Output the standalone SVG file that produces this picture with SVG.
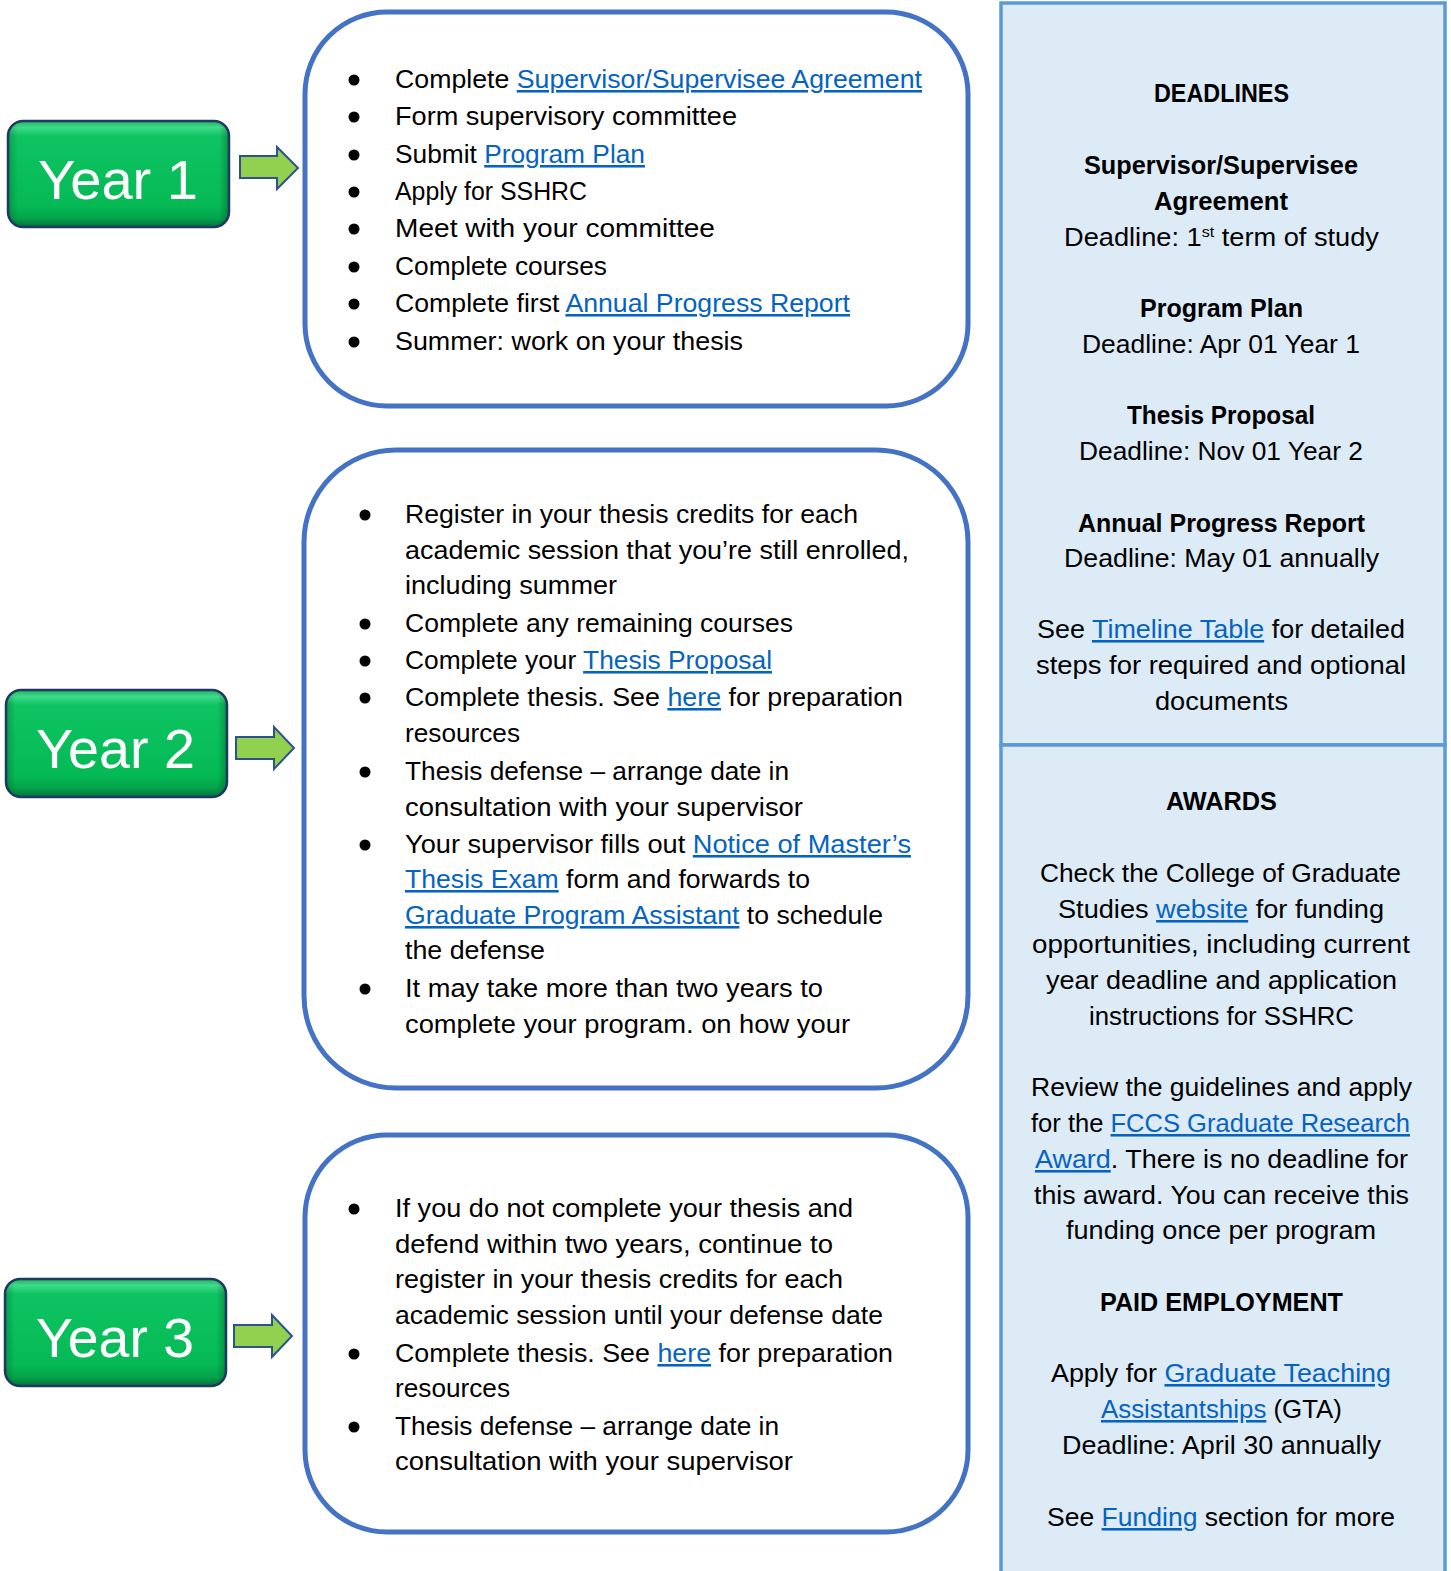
<svg xmlns="http://www.w3.org/2000/svg" width="1451" height="1571" viewBox="0 0 1451 1571">
<defs>
<linearGradient id="gbtn" x1="0" y1="0" x2="0" y2="1">
<stop offset="0" stop-color="#1FAE5C"/>
<stop offset="0.06" stop-color="#3EDB8A"/>
<stop offset="0.14" stop-color="#0EC462"/>
<stop offset="0.8" stop-color="#05BA55"/>
<stop offset="0.92" stop-color="#04A24A"/>
<stop offset="1" stop-color="#03703A"/>
</linearGradient>
<linearGradient id="gside" x1="0" y1="0" x2="1" y2="0">
<stop offset="0" stop-color="#000" stop-opacity="0.18"/>
<stop offset="0.04" stop-color="#000" stop-opacity="0"/>
<stop offset="0.96" stop-color="#000" stop-opacity="0"/>
<stop offset="1" stop-color="#000" stop-opacity="0.22"/>
</linearGradient>
</defs>
<style>
.t{font-family:"Liberation Sans",Arial,sans-serif;font-size:25.5px;fill:#000}
.b{font-weight:bold}
.l{fill:#0563C1;text-decoration:underline}
.box{fill:#fff;stroke:#4472C4;stroke-width:5}
.btn{stroke:#1F3864;stroke-width:2.5}
.yt{font-family:"Liberation Sans",Arial,sans-serif;font-size:55px;fill:#fff}
.arr{fill:#92D050;stroke:#2F528F;stroke-width:2;stroke-linejoin:miter}
.bul{fill:#000}
.panel{fill:#DDEBF7;stroke:#5B9BD5;stroke-width:3.5}
</style>

<g id="connectors">
<path class="arr" d="M240,156 H277 V147 L298,168 L277,189 V178 H240 Z"/>
<path class="arr" d="M236,737 H274 V727 L294,748 L274,769 V759 H236 Z"/>
<path class="arr" d="M234,1325 H272 V1315 L292,1336 L272,1357 V1347 H234 Z"/>
</g>

<g id="year1">
<rect class="btn" x="8" y="121" width="221" height="106" rx="15" fill="url(#gbtn)"/>
<rect x="9" y="122" width="219" height="104" rx="14" fill="url(#gside)"/>
<text class="yt" x="38" y="199" textLength="160" lengthAdjust="spacingAndGlyphs">Year 1</text>
</g>
<g id="year2">
<rect class="btn" x="6" y="690" width="221" height="107" rx="15" fill="url(#gbtn)"/>
<rect x="7" y="691" width="219" height="105" rx="14" fill="url(#gside)"/>
<text class="yt" x="36" y="768" textLength="159" lengthAdjust="spacingAndGlyphs">Year 2</text>
</g>
<g id="year3">
<rect class="btn" x="5" y="1279" width="221" height="107" rx="15" fill="url(#gbtn)"/>
<rect x="6" y="1280" width="219" height="105" rx="14" fill="url(#gside)"/>
<text class="yt" x="36" y="1357" textLength="158" lengthAdjust="spacingAndGlyphs">Year 3</text>
</g>

<g id="box1">
<rect class="box" x="305" y="12" width="663" height="394" rx="82"/>
<g class="bul">
<circle cx="354" cy="80" r="5.5"/><circle cx="354" cy="117" r="5.5"/><circle cx="354" cy="155" r="5.5"/><circle cx="354" cy="192" r="5.5"/>
<circle cx="354" cy="229" r="5.5"/><circle cx="354" cy="267" r="5.5"/><circle cx="354" cy="304" r="5.5"/><circle cx="354" cy="342" r="5.5"/>
</g>
<text class="t" x="395" y="88" textLength="527" lengthAdjust="spacingAndGlyphs">Complete <tspan class="l">Supervisor/Supervisee Agreement</tspan></text>
<text class="t" x="395" y="125" textLength="342" lengthAdjust="spacingAndGlyphs">Form supervisory committee</text>
<text class="t" x="395" y="163" textLength="250" lengthAdjust="spacingAndGlyphs">Submit <tspan class="l">Program Plan</tspan></text>
<text class="t" x="395" y="200" textLength="192" lengthAdjust="spacingAndGlyphs">Apply for SSHRC</text>
<text class="t" x="395" y="237" textLength="320" lengthAdjust="spacingAndGlyphs">Meet with your committee</text>
<text class="t" x="395" y="275" textLength="212" lengthAdjust="spacingAndGlyphs">Complete courses</text>
<text class="t" x="395" y="312" textLength="455" lengthAdjust="spacingAndGlyphs">Complete first <tspan class="l">Annual Progress Report</tspan></text>
<text class="t" x="395" y="350" textLength="348" lengthAdjust="spacingAndGlyphs">Summer: work on your thesis</text>
</g>

<g id="box2">
<rect class="box" x="304" y="450" width="664" height="638" rx="92"/>
<g class="bul">
<circle cx="365" cy="515" r="5.5"/><circle cx="365" cy="624" r="5.5"/><circle cx="365" cy="661" r="5.5"/><circle cx="365" cy="698" r="5.5"/>
<circle cx="365" cy="772" r="5.5"/><circle cx="365" cy="845" r="5.5"/><circle cx="365" cy="989" r="5.5"/>
</g>
<text class="t" x="405" y="523" textLength="453" lengthAdjust="spacingAndGlyphs">Register in your thesis credits for each</text>
<text class="t" x="405" y="559" textLength="504" lengthAdjust="spacingAndGlyphs">academic session that you’re still enrolled,</text>
<text class="t" x="405" y="594" textLength="212" lengthAdjust="spacingAndGlyphs">including summer</text>
<text class="t" x="405" y="632" textLength="388" lengthAdjust="spacingAndGlyphs">Complete any remaining courses</text>
<text class="t" x="405" y="669" textLength="367" lengthAdjust="spacingAndGlyphs">Complete your <tspan class="l">Thesis Proposal</tspan></text>
<text class="t" x="405" y="706" textLength="498" lengthAdjust="spacingAndGlyphs">Complete thesis. See <tspan class="l">here</tspan> for preparation</text>
<text class="t" x="405" y="742" textLength="115" lengthAdjust="spacingAndGlyphs">resources</text>
<text class="t" x="405" y="780" textLength="384" lengthAdjust="spacingAndGlyphs">Thesis defense – arrange date in</text>
<text class="t" x="405" y="816" textLength="398" lengthAdjust="spacingAndGlyphs">consultation with your supervisor</text>
<text class="t" x="405" y="853" textLength="506" lengthAdjust="spacingAndGlyphs">Your supervisor fills out <tspan class="l">Notice of Master’s</tspan></text>
<text class="t" x="405" y="888" textLength="405" lengthAdjust="spacingAndGlyphs"><tspan class="l">Thesis Exam</tspan> form and forwards to</text>
<text class="t" x="405" y="924" textLength="478" lengthAdjust="spacingAndGlyphs"><tspan class="l">Graduate Program Assistant</tspan> to schedule</text>
<text class="t" x="405" y="959" textLength="140" lengthAdjust="spacingAndGlyphs">the defense</text>
<text class="t" x="405" y="997" textLength="418" lengthAdjust="spacingAndGlyphs">It may take more than two years to</text>
<text class="t" x="405" y="1033" textLength="445" lengthAdjust="spacingAndGlyphs">complete your program. on how your</text>
</g>

<g id="box3">
<rect class="box" x="305" y="1135" width="663" height="397" rx="82"/>
<g class="bul">
<circle cx="354" cy="1209" r="5.5"/><circle cx="354" cy="1354" r="5.5"/><circle cx="354" cy="1427" r="5.5"/>
</g>
<text class="t" x="395" y="1217" textLength="458" lengthAdjust="spacingAndGlyphs">If you do not complete your thesis and</text>
<text class="t" x="395" y="1253" textLength="438" lengthAdjust="spacingAndGlyphs">defend within two years, continue to</text>
<text class="t" x="395" y="1288" textLength="448" lengthAdjust="spacingAndGlyphs">register in your thesis credits for each</text>
<text class="t" x="395" y="1324" textLength="488" lengthAdjust="spacingAndGlyphs">academic session until your defense date</text>
<text class="t" x="395" y="1362" textLength="498" lengthAdjust="spacingAndGlyphs">Complete thesis. See <tspan class="l">here</tspan> for preparation</text>
<text class="t" x="395" y="1397" textLength="115" lengthAdjust="spacingAndGlyphs">resources</text>
<text class="t" x="395" y="1435" textLength="384" lengthAdjust="spacingAndGlyphs">Thesis defense – arrange date in</text>
<text class="t" x="395" y="1470" textLength="398" lengthAdjust="spacingAndGlyphs">consultation with your supervisor</text>
</g>

<g id="deadlines">
<rect class="panel" x="1001" y="3" width="444" height="742"/>
<text class="t b" x="1154" y="102" textLength="135" lengthAdjust="spacingAndGlyphs">DEADLINES</text>
<text class="t b" x="1084" y="174" textLength="274" lengthAdjust="spacingAndGlyphs">Supervisor/Supervisee</text>
<text class="t b" x="1154" y="210" textLength="134" lengthAdjust="spacingAndGlyphs">Agreement</text>
<text class="t" x="1064" y="246" textLength="315" lengthAdjust="spacingAndGlyphs">Deadline: 1<tspan dy="-9" font-size="15">st</tspan><tspan dy="9"> term of study</tspan></text>
<text class="t b" x="1140" y="317" textLength="163" lengthAdjust="spacingAndGlyphs">Program Plan</text>
<text class="t" x="1082" y="353" textLength="278" lengthAdjust="spacingAndGlyphs">Deadline: Apr 01 Year 1</text>
<text class="t b" x="1127" y="424" textLength="188" lengthAdjust="spacingAndGlyphs">Thesis Proposal</text>
<text class="t" x="1079" y="460" textLength="284" lengthAdjust="spacingAndGlyphs">Deadline: Nov 01 Year 2</text>
<text class="t b" x="1078" y="532" textLength="287" lengthAdjust="spacingAndGlyphs">Annual Progress Report</text>
<text class="t" x="1064" y="567" textLength="315" lengthAdjust="spacingAndGlyphs">Deadline: May 01 annually</text>
<text class="t" x="1037" y="638" textLength="368" lengthAdjust="spacingAndGlyphs">See <tspan class="l">Timeline Table</tspan> for detailed</text>
<text class="t" x="1036" y="674" textLength="370" lengthAdjust="spacingAndGlyphs">steps for required and optional</text>
<text class="t" x="1155" y="710" textLength="133" lengthAdjust="spacingAndGlyphs">documents</text>
</g>

<g id="awards">
<rect class="panel" x="1001" y="745" width="444" height="840"/>
<text class="t b" x="1166" y="810" textLength="111" lengthAdjust="spacingAndGlyphs">AWARDS</text>
<text class="t" x="1040" y="882" textLength="361" lengthAdjust="spacingAndGlyphs">Check the College of Graduate</text>
<text class="t" x="1058" y="918" textLength="326" lengthAdjust="spacingAndGlyphs">Studies <tspan class="l">website</tspan> for funding</text>
<text class="t" x="1032" y="953" textLength="378" lengthAdjust="spacingAndGlyphs">opportunities, including current</text>
<text class="t" x="1046" y="989" textLength="351" lengthAdjust="spacingAndGlyphs">year deadline and application</text>
<text class="t" x="1089" y="1025" textLength="265" lengthAdjust="spacingAndGlyphs">instructions for SSHRC</text>
<text class="t" x="1031" y="1096" textLength="381" lengthAdjust="spacingAndGlyphs">Review the guidelines and apply</text>
<text class="t" x="1031" y="1132" textLength="379" lengthAdjust="spacingAndGlyphs">for the <tspan class="l">FCCS Graduate Research</tspan></text>
<text class="t" x="1035" y="1168" textLength="373" lengthAdjust="spacingAndGlyphs"><tspan class="l">Award</tspan>. There is no deadline for</text>
<text class="t" x="1034" y="1204" textLength="375" lengthAdjust="spacingAndGlyphs">this award. You can receive this</text>
<text class="t" x="1066" y="1239" textLength="310" lengthAdjust="spacingAndGlyphs">funding once per program</text>
<text class="t b" x="1100" y="1311" textLength="243" lengthAdjust="spacingAndGlyphs">PAID EMPLOYMENT</text>
<text class="t" x="1051" y="1382" textLength="340" lengthAdjust="spacingAndGlyphs">Apply for <tspan class="l">Graduate Teaching</tspan></text>
<text class="t" x="1101" y="1418" textLength="241" lengthAdjust="spacingAndGlyphs"><tspan class="l">Assistantships</tspan> (GTA)</text>
<text class="t" x="1062" y="1454" textLength="319" lengthAdjust="spacingAndGlyphs">Deadline: April 30 annually</text>
<text class="t" x="1047" y="1526" textLength="348" lengthAdjust="spacingAndGlyphs">See <tspan class="l">Funding</tspan> section for more</text>
</g>
</svg>
